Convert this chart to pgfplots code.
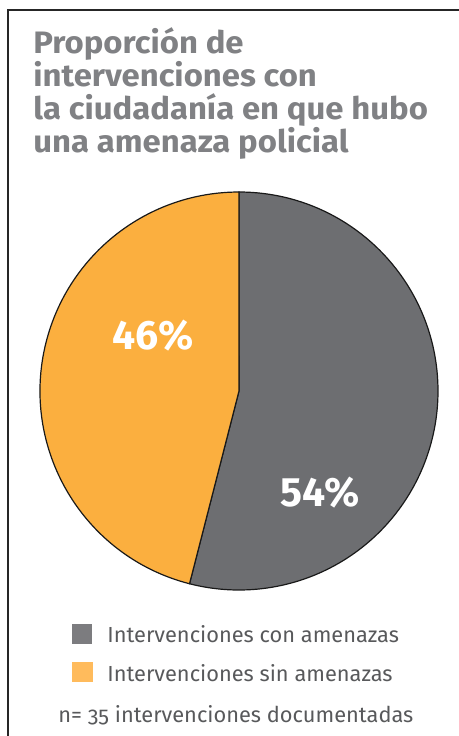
\documentclass[border=0pt]{standalone}
\usepackage{pgfplots}
\pgfplotsset{compat=1.18}
\usepackage{pgfplotstable}
\usepackage{fontspec}
\setmainfont{Fira Sans}
\newfontfamily\titlefont[FakeStretch=1.06]{Fira Sans}
\definecolor{titlegray}{HTML}{808184}
\definecolor{piegray}{HTML}{6D6E71}
\definecolor{pieorange}{HTML}{FBAF3F}
\definecolor{legorange}{HTML}{FFBB5C}
\definecolor{textgray}{HTML}{58595B}

\pgfplotstableread{
label value
con 54
sin 46
}\piedata

\begin{document}
\begin{tikzpicture}[x=0.5pt,y=0.5pt]
\useasboundingbox (0,0) rectangle (459,-736);
\draw[line width=1pt, black!85] (8,-736) -- (8,-10) -- (459,-10);
\node[anchor=base west, align=left, font=\titlefont\fontsize{15.5}{16.5}\selectfont\bfseries, text=titlegray, inner sep=0] at (33,-152) {Proporción de\\intervenciones con\\la ciudadanía en que hubo\\una amenaza policial};
\pgfplotstablegetelem{0}{value}\of\piedata \let\va\pgfplotsretval
\pgfplotstablegetelem{1}{value}\of\piedata \let\vb\pgfplotsretval
\pgfmathsetmacro\angA{90-3.6*\va}
\pgfmathsetmacro\angB{\angA-3.6*\vb}
\begin{axis}[at={(119.5pt,-195.5pt)}, anchor=center, scale only axis, width=199pt, height=199pt,
  xmin=-1, xmax=1, ymin=-1, ymax=1, hide axis, clip=false]
\fill[piegray, draw=black!90, line width=0.6pt] (axis cs:0,0) -- (axis cs:0,1) arc[start angle=90, end angle=\angA, radius=99.5pt] -- cycle;
\fill[pieorange, draw=black!90, line width=0.6pt] (axis cs:0,0) -- (axis cs:{cos(\angA)},{sin(\angA)}) arc[start angle=\angA, end angle=\angB, radius=99.5pt] -- cycle;
\node[text=white, font=\fontsize{20.5}{22}\selectfont\bfseries] at (axis cs:-0.432,0.281) {\vb\%};
\node[text=white, font=\fontsize{20.5}{22}\selectfont\bfseries] at (axis cs:0.407,-0.508) {\va\%};
\end{axis}
\fill[piegray!90!white] (72,-624) rectangle (92,-644);
\fill[legorange] (72,-662) rectangle (93,-682);
\node[anchor=west, inner sep=0, text=textgray, font=\fontsize{10.9}{12}\selectfont] at (107,-634) {Intervenciones con amenazas};
\node[anchor=west, inner sep=0, text=textgray, font=\fontsize{10.9}{12}\selectfont] at (107,-673) {Intervenciones sin amenazas};
\node[anchor=west, inner sep=0, text=textgray, font=\fontsize{10.9}{12}\selectfont\addfontfeatures{Numbers=OldStyle}] at (58,-715) {n= 35 intervenciones documentadas};
\end{tikzpicture}
\end{document}
